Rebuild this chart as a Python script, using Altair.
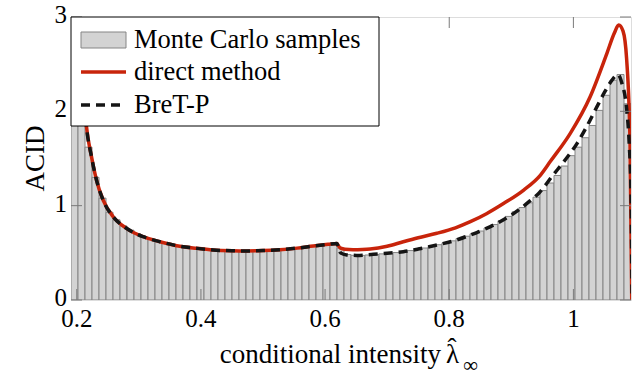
import altair as alt
import numpy as np
import pandas as pd

# ---------------- data ----------------
x_min, x_max, n_bins = 0.1907, 1.0928, 80
mc_density = [
    2.8, 2.1, 1.62, 1.30, 1.08, 0.93, 0.85, 0.785, 0.74, 0.70,
    0.668, 0.643, 0.622, 0.604, 0.588, 0.573, 0.562, 0.552, 0.544, 0.537,
    0.531, 0.527, 0.524, 0.522, 0.521, 0.521, 0.522, 0.525, 0.528, 0.532,
    0.538, 0.545, 0.553, 0.562, 0.571, 0.580, 0.589, 0.597, 0.55, 0.482,
    0.474, 0.473, 0.477, 0.483, 0.489, 0.496, 0.503, 0.512, 0.524, 0.537,
    0.551, 0.567, 0.586, 0.606, 0.627, 0.651, 0.676, 0.701, 0.731, 0.763,
    0.80, 0.84, 0.886, 0.935, 0.98, 1.03, 1.09, 1.16, 1.24, 1.32,
    1.42, 1.53, 1.62, 1.72, 1.85, 2.01, 2.17, 2.33, 2.39, 2.08,
]
direct_x = [0.2, 0.205, 0.21, 0.2156, 0.2237, 0.2318, 0.2424, 0.2586, 0.28, 0.307,
            0.334, 0.361, 0.393, 0.42, 0.45, 0.474, 0.50, 0.527, 0.555, 0.581,
            0.605, 0.619, 0.6215, 0.625, 0.632, 0.645, 0.66, 0.6726, 0.70, 0.726,
            0.75, 0.78, 0.81, 0.834, 0.86, 0.888, 0.92, 0.947, 0.963, 0.995,
            1.027, 1.054, 1.066, 1.073, 1.08, 1.0857, 1.0913, 1.094]
direct_y = [4.0, 2.9, 2.3, 1.84, 1.52, 1.27, 1.06, 0.883, 0.76, 0.671,
            0.618, 0.576, 0.548, 0.53, 0.522, 0.52, 0.524, 0.533, 0.55, 0.572,
            0.59, 0.60, 0.575, 0.55, 0.538, 0.533, 0.535, 0.54, 0.57, 0.618,
            0.66, 0.707, 0.765, 0.83, 0.915, 1.025, 1.166, 1.325, 1.47, 1.767,
            2.155, 2.615, 2.83, 2.915, 2.85, 2.56, 1.66, 0.0]
bret_x = [0.2, 0.205, 0.21, 0.2156, 0.2237, 0.2318, 0.2424, 0.2586, 0.28, 0.307,
          0.334, 0.361, 0.393, 0.42, 0.45, 0.474, 0.50, 0.527, 0.555, 0.581,
          0.605, 0.619, 0.6215, 0.625, 0.635, 0.651, 0.678, 0.70, 0.726, 0.75,
          0.78, 0.81, 0.834, 0.86, 0.877, 0.90, 0.915, 0.93, 0.944, 0.968,
          0.985, 1.006, 1.02, 1.038, 1.05, 1.06, 1.0715, 1.078, 1.0857, 1.0899,
          1.0928, 1.0945]
bret_y = [4.0, 2.9, 2.3, 1.84, 1.52, 1.27, 1.06, 0.883, 0.76, 0.671,
          0.618, 0.576, 0.548, 0.53, 0.522, 0.52, 0.524, 0.533, 0.55, 0.572,
          0.59, 0.60, 0.56, 0.50, 0.478, 0.473, 0.484, 0.495, 0.512, 0.54,
          0.583, 0.633, 0.689, 0.76, 0.813, 0.90, 0.97, 1.05, 1.13, 1.33,
          1.47, 1.661, 1.82, 2.05, 2.2, 2.31, 2.39, 2.3, 2.03, 1.66,
          1.13, 0.0]
x_ticks = [0.2, 0.4, 0.6, 0.8, 1.0]
x_tick_labels = ["0.2", "0.4", "0.6", "0.8", "1"]
y_ticks = [0, 1, 2, 3]
y_tick_labels = ["0", "1", "2", "3"]
legend_labels = ["Monte Carlo samples", "direct method", "BreT-P"]
x_title = "conditional intensity"
x_title_sym = "\u03bb"
x_title_hat = "\u02c6"
x_title_sub = "\u221e"
y_title = "ACID"

# ---------------- layout ----------------
W, H = 560, 283
FONT = "Liberation Serif"
FS_TICK = 25
FS_LEG = 26.5
FS_TITLE = 27
RED = "#c8240b"
BLACK = "#151515"

edges = np.linspace(x_min, x_max, n_bins + 1)
hist = pd.DataFrame({"x0": edges[:-1], "x1": edges[1:], "d": mc_density})
direct = pd.DataFrame({"x": direct_x, "y": direct_y})
bret = pd.DataFrame({"x": bret_x, "y": bret_y})
xt = pd.DataFrame({"t": x_ticks, "lab": x_tick_labels})
yt = pd.DataFrame({"t": y_ticks, "lab": y_tick_labels})
one = pd.DataFrame({"a": [0]})

xs = alt.Scale(domain=[x_min, x_max], nice=False, zero=False)
ys = alt.Scale(domain=[0, 3], nice=False)
XN = dict(scale=xs, axis=None)
YN = dict(scale=ys, axis=None)

bars = alt.Chart(hist).mark_rect(
    fill="#d3d3d3", stroke="#858585", strokeWidth=1, clip=True
).encode(
    x=alt.X("x0:Q", **XN), x2="x1:Q",
    y=alt.Y("d:Q", **YN), y2=alt.datum(0),
)

red_line = alt.Chart(direct).mark_line(
    color=RED, strokeWidth=3.5, clip=True, interpolate="monotone"
).encode(x=alt.X("x:Q", **XN), y=alt.Y("y:Q", **YN))

black_line = alt.Chart(bret).mark_line(
    color=BLACK, strokeWidth=3.5, strokeDash=[9, 6], clip=True, interpolate="monotone"
).encode(x=alt.X("x:Q", **XN), y=alt.Y("y:Q", **YN))

TICK = dict(color="#7a7a7a", strokeWidth=1)
tick_b = alt.Chart(xt).mark_rule(**TICK).encode(
    x=alt.X("t:Q", **XN), y=alt.value(H), y2=alt.value(H - 11))
tick_t = alt.Chart(xt).mark_rule(**TICK).encode(
    x=alt.X("t:Q", **XN), y=alt.value(0), y2=alt.value(11))
tick_l = alt.Chart(yt).mark_rule(**TICK).encode(
    y=alt.Y("t:Q", **YN), x=alt.value(0), x2=alt.value(11))
tick_r = alt.Chart(yt).mark_rule(**TICK).encode(
    y=alt.Y("t:Q", **YN), x=alt.value(W), x2=alt.value(W - 11))

# tick labels, placed through the scales
xlab = alt.Chart(xt).mark_text(align="center", baseline="alphabetic", font=FONT,
                               fontSize=FS_TICK, color="black").encode(
    x=alt.X("t:Q", **XN), y=alt.value(H + 27), text="lab:N")
ylab = alt.Chart(yt).mark_text(align="right", baseline="alphabetic", font=FONT,
                               fontSize=FS_TICK, color="black", dy=6).encode(
    y=alt.Y("t:Q", **YN), x=alt.value(-4), text="lab:N")

# axis titles
ytitle = alt.Chart(one).mark_text(align="center", baseline="alphabetic", font=FONT,
                                  fontSize=FS_TITLE, angle=270, color="black").encode(
    x=alt.value(-27), y=alt.value(H / 2), text=alt.value(y_title))
TB = H + 63
xt_main = alt.Chart(one).mark_text(align="right", baseline="alphabetic", font=FONT,
                                   fontSize=FS_TITLE, color="black").encode(
    x=alt.value(370), y=alt.value(TB), text=alt.value(x_title))
xt_sym = alt.Chart(one).mark_text(align="left", baseline="alphabetic", font=FONT,
                                  fontSize=FS_TITLE, color="black").encode(
    x=alt.value(375), y=alt.value(TB), text=alt.value(x_title_sym))
xt_hat = alt.Chart(one).mark_text(align="center", baseline="alphabetic", font=FONT,
                                  fontSize=FS_TITLE, color="black").encode(
    x=alt.value(381), y=alt.value(TB - 6), text=alt.value(x_title_hat))
xt_sub = alt.Chart(one).mark_text(align="left", baseline="middle", font=FONT,
                                  fontSize=21, color="black").encode(
    x=alt.value(392), y=alt.value(TB + 3), text=alt.value(x_title_sub))

# legend (drawn manually)
LX0, LX1, LY0, LY1 = 0, 308, 0, 109
rows = [23, 55, 88]
leg_box = alt.Chart(one).mark_rect(fill="white", stroke="black", strokeWidth=1).encode(
    x=alt.value(LX0), x2=alt.value(LX1), y=alt.value(LY0), y2=alt.value(LY1))
leg_sw = alt.Chart(one).mark_rect(fill="#d3d3d3", stroke="#858585", strokeWidth=1).encode(
    x=alt.value(10), x2=alt.value(55), y=alt.value(rows[0] - 8), y2=alt.value(rows[0] + 8))
leg_red = alt.Chart(one).mark_rule(color=RED, strokeWidth=3.5).encode(
    x=alt.value(10), x2=alt.value(55), y=alt.value(rows[1]))
leg_blk = alt.Chart(one).mark_rule(color=BLACK, strokeWidth=3.5, strokeDash=[9, 6]).encode(
    x=alt.value(10), x2=alt.value(55), y=alt.value(rows[2]))
leg_txt = [
    alt.Chart(one).mark_text(align="left", baseline="middle", font=FONT, fontSize=FS_LEG,
                             color="black").encode(
        x=alt.value(63), y=alt.value(rows[i]), text=alt.value(legend_labels[i]))
    for i in range(3)
]

chart = alt.layer(
    bars, red_line, black_line, tick_b, tick_t, tick_l, tick_r,
    leg_box, leg_sw, leg_red, leg_blk, *leg_txt,
    xlab, ylab, ytitle, xt_main, xt_sym, xt_hat, xt_sub,
).properties(
    width=W, height=H, autosize="none",
    padding={"left": 71, "top": 17, "right": 3, "bottom": 79},
).configure_view(stroke="black", strokeWidth=1.2).configure(background="white")

chart.save("out.html", embed_options={"renderer": "svg", "actions": False})
